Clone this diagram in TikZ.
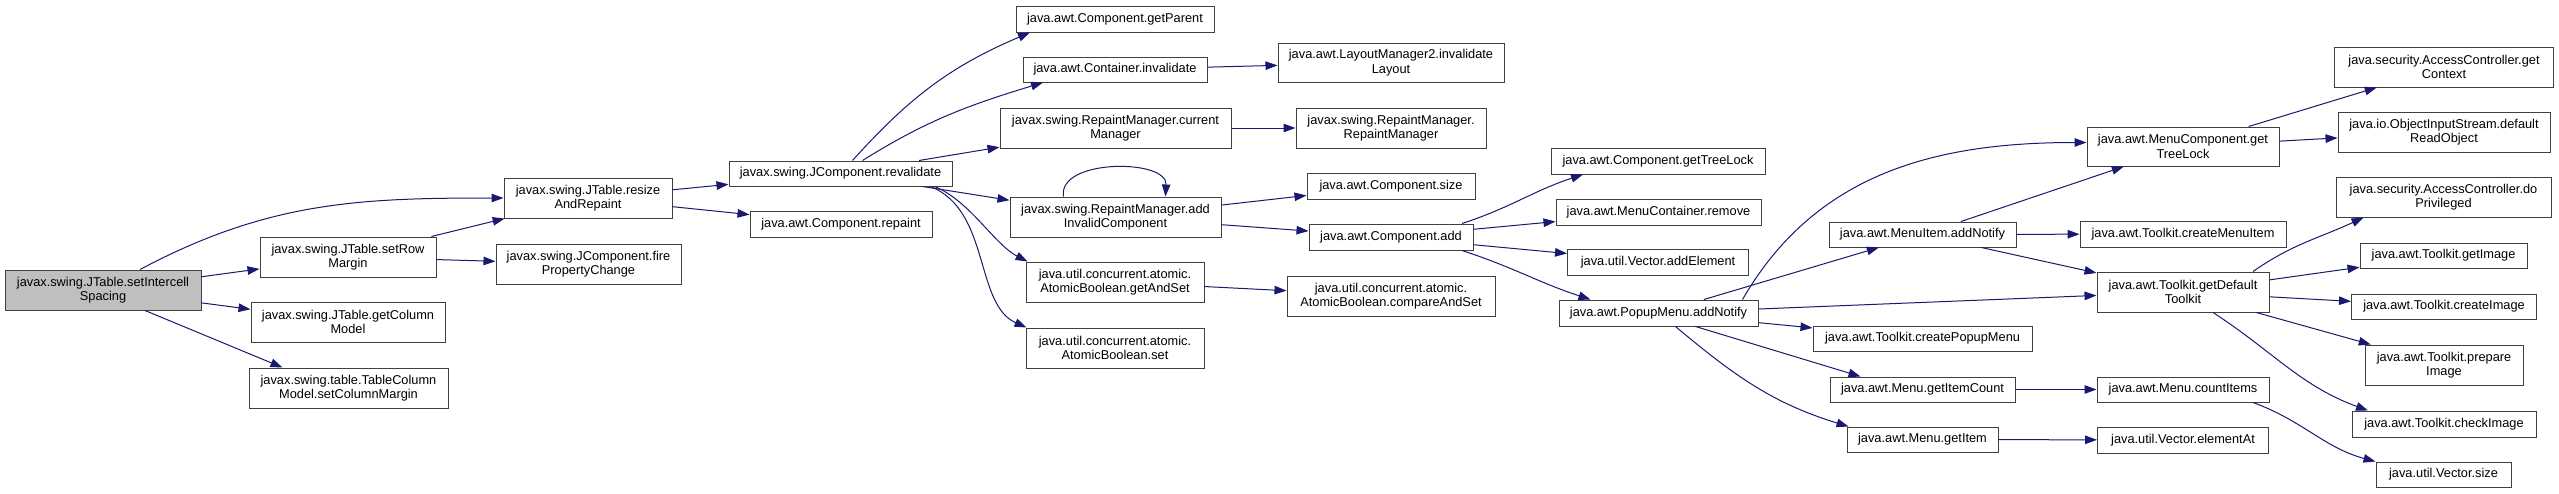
\documentclass[tikz,border=0pt]{standalone}
\usepackage{fontspec}
\setmainfont{Liberation Sans}
\usepackage{tikz}
\usetikzlibrary{arrows.meta}
\usetikzlibrary{calc}
\definecolor{callblue}{HTML}{191970}
\newcommand{\fnfont}{\fontsize{12.8}{14.5}\selectfont}
\tikzstyle{fnbox}=[draw=black!75,line width=1pt,fill=white,align=center,inner sep=0pt,font=\fnfont]
\tikzstyle{rootbox}=[fnbox,fill=black!25]
\tikzstyle{callarrow} = [draw,line width=1pt,callblue,-{Triangle[length=12pt,width=8.5pt]}]

\begin{document}
\begin{tikzpicture}[x=1pt,y=-1pt]

\path[fill=white] (0,0) rectangle (2559,493);
\useasboundingbox (0,0) rectangle (2559,493);

    \node[rootbox,minimum width=196pt,minimum height=40pt] (root) at (103,290) {javax.swing.JTable.setIntercell\\Spacing};

    % functions called from setIntercellSpacing, column by column
    \foreach \pos/\name/\w/\h/\txt in {
        {(348,257)/rowmargin/176/40/{javax.swing.JTable.setRow\\Margin}},
        {(348,322)/colmodel/194/40/{javax.swing.JTable.getColumn\\Model}},
        {(348.5,388)/colmargin/199/40/{javax.swing.table.TableColumn\\Model.setColumnMargin}},
        {(588,198)/resize/168/40/{javax.swing.JTable.resize\\AndRepaint}},
        {(588.5,264)/fire/185/40/{javax.swing.JComponent.fire\\PropertyChange}},
        {(840.5,173.5)/revalidate/223/25/{javax.swing.JComponent.revalidate}},
        {(841,224)/repaint/182/26/{java.awt.Component.repaint}},
        {(1115,19)/getparent/198/26/{java.awt.Component.getParent}},
        {(1115,69.5)/cinvalidate/184/25/{java.awt.Container.invalidate}},
        {(1115.5,128)/curmanager/231/40/{javax.swing.RepaintManager.current\\Manager}},
        {(1115.5,217)/addinvalid/211/40/{javax.swing.RepaintManager.add\\InvalidComponent}},
        {(1115,282)/getandset/178/40/{java.util.concurrent.atomic.\\AtomicBoolean.getAndSet}},
        {(1115,348)/abset/178/40/{java.util.concurrent.atomic.\\AtomicBoolean.set}},
        {(1391,62.5)/invlayout/226/39/{java.awt.LayoutManager2.invalidate\\Layout}},
        {(1391,128)/rmanager/190/40/{javax.swing.RepaintManager.\\RepaintManager}},
        {(1391,186)/csize/168/26/{java.awt.Component.size}},
        {(1391,237)/cadd/164/26/{java.awt.Component.add}},
        {(1391,296)/compareset/208/40/{java.util.concurrent.atomic.\\AtomicBoolean.compareAndSet}},
        {(1658,161)/ctreelock/214/26/{java.awt.Component.getTreeLock}},
        {(1658.5,212)/mcremove/205/26/{java.awt.MenuContainer.remove}},
        {(1658,262)/vaddelem/181/26/{java.util.Vector.addElement}},
        {(1658.5,313)/popup/199/26/{java.awt.PopupMenu.addNotify}},
        {(1922.5,234.5)/miadd/187/25/{java.awt.MenuItem.addNotify}},
        {(1922.5,338.5)/mkpopup/219/25/{java.awt.Toolkit.createPopupMenu}},
        {(1922.5,389.5)/itemcount/185/25/{java.awt.Menu.getItemCount}},
        {(1922.5,439.5)/getitem/151/25/{java.awt.Menu.getItem}},
        {(2183,146.5)/mctreelock/192/39/{java.awt.MenuComponent.get\\TreeLock}},
        {(2183,234)/mkmenuitem/206/26/{java.awt.Toolkit.createMenuItem}},
        {(2183,292)/deftoolkit/172/40/{java.awt.Toolkit.getDefault\\Toolkit}},
        {(2183,389.5)/countitems/172/25/{java.awt.Menu.countItems}},
        {(2183,440)/elementat/171/26/{java.util.Vector.elementAt}},
        {(2444,67)/getcontext/219/40/{java.security.AccessController.get\\Context}},
        {(2444,132)/readobject/212/40/{java.io.ObjectInputStream.default\\ReadObject}},
        {(2443.5,197)/doprivileged/215/40/{java.security.AccessController.do\\Privileged}},
        {(2443.5,255.5)/getimage/167/25/{java.awt.Toolkit.getImage}},
        {(2444,306.5)/mkimage/185/25/{java.awt.Toolkit.createImage}},
        {(2444,365)/prepimage/158/40/{java.awt.Toolkit.prepare\\Image}},
        {(2444,424)/checkimage/184/26/{java.awt.Toolkit.checkImage}},
        {(2443.5,474.5)/vsize/135/25/{java.util.Vector.size}}}
        \node[fnbox,minimum width=\w pt,minimum height=\h pt] (\name) at \pos {\txt};

    % straight calls
    \foreach \source/ \dest in {root/rowmargin, root/colmodel, rowmargin/resize, rowmargin/fire,
        resize/revalidate, resize/repaint, revalidate/curmanager, revalidate/addinvalid,
        cinvalidate/invlayout, curmanager/rmanager, addinvalid/csize, addinvalid/cadd,
        getandset/compareset, cadd/mcremove, cadd/vaddelem, popup/miadd, popup/deftoolkit,
        popup/mkpopup, miadd/mctreelock, miadd/mkmenuitem, miadd/deftoolkit,
        itemcount/countitems, getitem/elementat, mctreelock/getcontext, mctreelock/readobject,
        deftoolkit/getimage, deftoolkit/mkimage, deftoolkit/prepimage}
        \path[callarrow] (\source) -- (\dest);

    % bent calls
    \path[callarrow] ([xshift=37pt]root.north) to [out=28, in=180] (resize.west);
    \path[callarrow] ([xshift=42pt]root.south) -- ([xshift=-66pt]colmargin.north);
    \path[callarrow] ([xshift=12pt]revalidate.north) to [out=48, in=203] ([xshift=-85pt]getparent.south);
    \path[callarrow] ([xshift=22pt]revalidate.north) to [out=32, in=197] ([xshift=-72pt]cinvalidate.south);
    \path[callarrow] ([xshift=94pt]revalidate.south) .. controls +(35,14) and +(-33,-17) .. ([xshift=2pt]getandset.north west);
    \path[callarrow] ([xshift=90pt]revalidate.south) .. controls +(60,24) and +(-52,-23) .. ([xshift=1pt]abset.north west);
    \path[callarrow] ([xshift=-52pt]addinvalid.north) .. controls +(-6,-38) and +(2,-38) .. ([xshift=50pt]addinvalid.north);
    \path[callarrow] ([xshift=71pt]cadd.north) to [out=18, in=198] ([xshift=-75pt]ctreelock.south);
    \path[callarrow] ([xshift=71pt]cadd.south) to [out=-18, in=162] ([xshift=-68pt]popup.north);
    \path[callarrow] ([xshift=84pt]popup.north) to [out=60, in=180] ([yshift=4pt]mctreelock.west);
    \path[callarrow] ([xshift=37pt]popup.south) -- ([xshift=-62pt]itemcount.north);
    \path[callarrow] ([xshift=17pt]popup.south) to [out=-40, in=163] ([xshift=2pt]getitem.north west);
    \path[callarrow] ([xshift=70pt]deftoolkit.north) to [out=35, in=205] ([xshift=-80pt]doprivileged.south);
    \path[callarrow] ([xshift=30pt]deftoolkit.south) to [out=-33, in=160] ([xshift=-76pt]checkimage.north);
    \path[callarrow] ([xshift=70pt]countitems.south) to [out=-20, in=165] ([xshift=-68pt]vsize.north);

\end{tikzpicture}
\end{document}
